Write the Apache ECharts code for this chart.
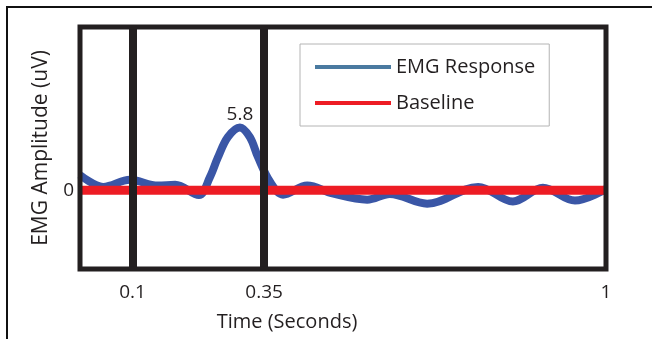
<!DOCTYPE html>
<html><head><meta charset="utf-8">
<script src="https://cdn.jsdelivr.net/npm/echarts@6/dist/echarts.min.js"></script>
<style>html,body{margin:0;padding:0;background:#fff}#c{width:652px;height:339px}</style>
</head><body><div id="c"></div>
<script>
// Data
const emgTime = [0, 0.044, 0.095, 0.148, 0.181, 0.226, 0.247, 0.262, 0.281, 0.304, 0.323, 0.338, 0.361, 0.386, 0.432, 0.480, 0.546, 0.589, 0.660, 0.757, 0.823, 0.880, 0.941, 1.0];
const emgValue = [1.4, 0.3, 0.95, 0.42, 0.5, -0.45, 1.2, 3.0, 4.9, 5.8, 4.9, 3.1, 0.8, -0.42, 0.42, -0.3, -0.88, -0.35, -1.25, 0.3, -1.05, 0.22, -0.97, 0.1];
const baselineTime = [0, 1];
const baselineValue = [0, 0];
const markerTimes = [0.1, 0.35];
const xTickLabels = [0.1, 0.35, 1];
const yTickLabels = [0];
const peakLabel = '5.8';
const peakIndex = 9;

const ink = '#231f20';
const font = 'Open Sans';

const chart = echarts.init(document.getElementById('c'), null, { renderer: 'canvas' });
chart.setOption({
  animation: false,
  backgroundColor: '#fff',
  graphic: [{
    type: 'rect', shape: { x: 7, y: 7, width: 700, height: 400 }, silent: true,
    style: { fill: 'none', stroke: '#111', lineWidth: 2 }, z: -1
  }],
  grid: { left: 80, right: 46, top: 27, bottom: 70, show: true, borderColor: ink, borderWidth: 5, z: 10, backgroundColor: 'transparent' },
  legend: {
    left: 300, top: 44, orient: 'vertical',
    backgroundColor: '#fff', borderColor: '#b4b4b4', borderWidth: 1,
    padding: [13, 14, 13, 15], itemGap: 16, itemWidth: 76, itemHeight: 4,
    textStyle: { color: ink, fontFamily: font, fontSize: 20, lineHeight: 20 },
    data: [
      { name: 'EMG Response', icon: 'rect', itemStyle: { color: '#4a7aa0' } },
      { name: 'Baseline', icon: 'rect', itemStyle: { color: '#ed1c24' } }
    ]
  },
  xAxis: {
    type: 'value', min: 0, max: 1,
    name: 'Time (Seconds)', nameLocation: 'middle', nameGap: 43,
    nameTextStyle: { color: ink, fontFamily: font, fontSize: 20, padding: [0, 112, 0, 0] },
    axisLine: { show: false }, axisTick: { show: false }, splitLine: { show: false },
    axisLabel: { customValues: xTickLabels, color: ink, fontFamily: font, fontSize: 19, margin: 14 }
  },
  yAxis: {
    type: 'value', min: -7.3, max: 15.1,
    name: 'EMG Amplitude (uV)', nameLocation: 'middle', nameGap: 28,
    nameTextStyle: { color: ink, fontFamily: font, fontSize: 21 },
    axisLine: { show: false }, axisTick: { show: false }, splitLine: { show: false },
    axisLabel: { customValues: yTickLabels, color: ink, fontFamily: font, fontSize: 19, margin: 6 }
  },
  series: [
    {
      name: 'EMG Response', type: 'line', smooth: 0.35, showSymbol: false, z: 2,
      lineStyle: { color: '#3a56a6', width: 8 }, itemStyle: { color: '#3a56a6' },
      data: emgTime.map((t, i) => [t, emgValue[i]]),
      markPoint: {
        silent: true, symbol: 'circle', symbolSize: 0,
        label: { show: true, position: 'top', distance: 3, formatter: peakLabel, color: ink, fontFamily: font, fontSize: 19 },
        data: [{ coord: [emgTime[peakIndex], emgValue[peakIndex]] }]
      }
    },
    {
      name: 'Baseline', type: 'line', showSymbol: false, z: 3,
      lineStyle: { color: '#ed1c24', width: 9 }, itemStyle: { color: '#ed1c24' },
      data: baselineTime.map((t, i) => [t, baselineValue[i]])
    },
    {
      name: 'markers', type: 'line', data: [], z: 4,
      markLine: {
        silent: true, symbol: 'none', label: { show: false },
        lineStyle: { color: ink, width: 8, type: 'solid' },
        data: markerTimes.map(t => ({ xAxis: t }))
      }
    }
  ]
});
</script></body></html>
